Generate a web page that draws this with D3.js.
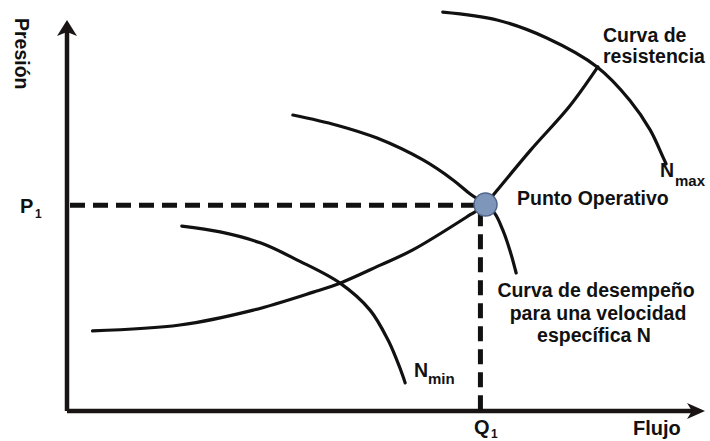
<!DOCTYPE html>
<html>
<head>
<meta charset="utf-8">
<script src="https://cdn.jsdelivr.net/npm/d3@7/dist/d3.min.js"></script>
<style>
  body { margin: 0; background: #fff; }
  text { font-family: "Liberation Sans", Arial, sans-serif; font-weight: bold; fill: #111; }
</style>
</head>
<body>
<script>
// curve points, [flow, pressure] in chart units (0..100)
const resistanceCurve = [[4.0, 20.5], [17.7, 22.0], [29.2, 25.8], [38.6, 30.4], [42.8, 32.7], [49.1, 37.3],
  [54.2, 41.2], [63.2, 50.2], [65.6, 52.8], [67.0, 55.6], [72.6, 66.6], [78.8, 78.0], [83.2, 88.0]];
const speedNCurve = [[35.4, 75.7], [42.3, 73.1], [48.6, 69.8], [55.8, 64.2], [60.5, 59.1], [63.2, 55.5],
  [65.6, 52.8], [67.1, 50.4], [68.3, 46.3], [69.4, 41.2], [70.4, 35.3]];
const speedMaxCurve = [[58.9, 102.0], [67.4, 100.0], [75.2, 95.4], [83.1, 88.0], [88.2, 79.5],
  [91.4, 71.9], [93.4, 65.0], [93.9, 63.2]];
const speedMinCurve = [[18.0, 47.3], [24.0, 45.8], [30.3, 43.0], [36.1, 38.6], [42.8, 32.7], [47.5, 25.8],
  [50.3, 18.2], [51.7, 13.0], [52.7, 8.7], [53.0, 7.2]];
const Q1 = 64.8;
const P1 = 52.6;
const operatingPoint = [65.6, 52.8];

const width = 710, height = 441;

let svg = d3.select('body').append('svg')
  .attr('width', width)
  .attr('height', height);

let x = d3.scaleLinear().domain([0, 100]).range([67, 705]);
let y = d3.scaleLinear().domain([0, 100]).range([411, 20]);

let line = d3.line()
  .x(d => x(d[0]))
  .y(d => y(d[1]))
  .curve(d3.curveCatmullRom.alpha(0.5));

// axes
svg.append('path')
  .attr('d', 'M' + x(0) + ',' + y(0) + 'V' + (y(100) + 10) + 'M' + x(0) + ',' + y(0) + 'H' + (x(100) - 10))
  .attr('fill', 'none')
  .attr('stroke', '#1a1414')
  .attr('stroke-width', 4.5);

// arrow heads
svg.append('path')
  .attr('d', 'M' + x(0) + ',' + y(100) + 'l-10,16l10,-4l10,4z')
  .attr('fill', '#1a1414');
svg.append('path')
  .attr('d', 'M' + x(100) + ',' + y(0) + 'l-18,-8l5,8l-5,8z')
  .attr('fill', '#1a1414');

// reference dashes
svg.append('path')
  .attr('d', 'M' + (x(0) + 3) + ',' + y(P1) + 'H' + x(Q1))
  .attr('stroke', '#111')
  .attr('stroke-width', 5)
  .attr('stroke-dasharray', '15,8');
svg.append('path')
  .attr('d', 'M' + x(Q1) + ',' + (y(P1) + 6) + 'V' + y(0))
  .attr('stroke', '#111')
  .attr('stroke-width', 5)
  .attr('stroke-dasharray', '15,8');

// curves
[resistanceCurve, speedNCurve, speedMaxCurve, speedMinCurve].forEach(c => {
  svg.append('path')
    .attr('d', line(c))
    .attr('fill', 'none')
    .attr('stroke', '#111')
    .attr('stroke-width', 3.2)
    .attr('stroke-linecap', 'round');
});

// operating point
svg.append('circle')
  .attr('cx', x(operatingPoint[0]))
  .attr('cy', y(operatingPoint[1]))
  .attr('r', 11.5)
  .attr('fill', '#7f96bb')
  .attr('stroke', '#50658a')
  .attr('stroke-width', 1.5);

// labels
function label(txt, px, py, size, anchor) {
  return svg.append('text')
    .attr('x', px).attr('y', py)
    .attr('font-size', size)
    .attr('text-anchor', anchor || 'start')
    .text(txt);
}

svg.append('text')
  .attr('transform', 'translate(15,18) rotate(90)')
  .attr('font-size', 19.5)
  .text('Presión');

label('P', 20, 213, 20);
label('1', 35, 218, 12);
label('Q', 474, 434, 20);
label('1', 491, 438, 12);
label('Flujo', 633, 435, 20);

label('Curva de', 603, 42, 19.5);
label('resistencia', 603, 63, 19.5);

label('N', 660, 177, 19.5);
label('max', 675, 186, 15);

label('Punto Operativo', 517, 205, 19.5);

label('N', 414, 377, 19.5);
label('min', 428, 384, 15);

label('Curva de desempeño', 596, 297, 19.5, 'middle');
label('para una velocidad', 598, 320, 19.5, 'middle');
label('específica N', 594, 342, 19.5, 'middle');
</script>
</body>
</html>
